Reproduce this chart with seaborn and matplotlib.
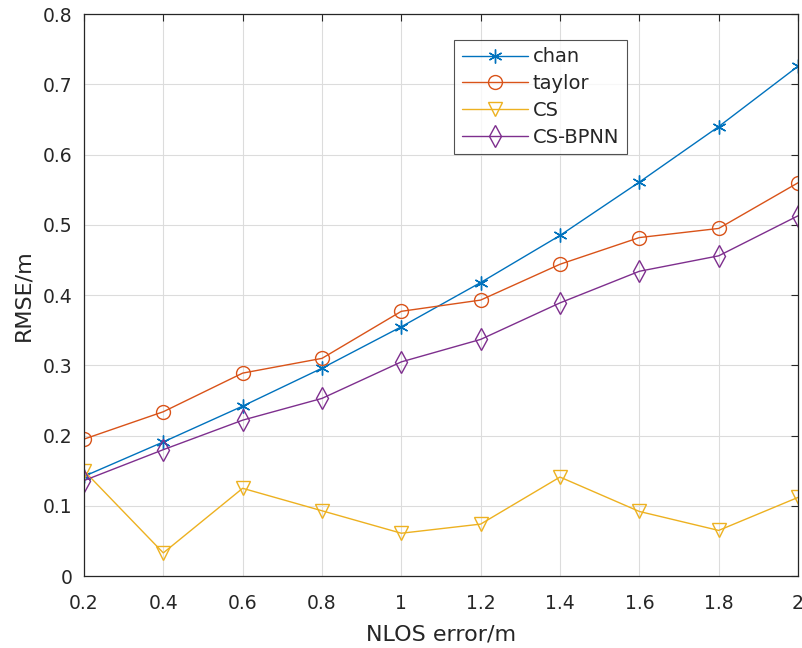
import numpy as np
import pandas as pd
import matplotlib
matplotlib.use("Agg")
import matplotlib.pyplot as plt
import seaborn as sns

nlos = [0.2, 0.4, 0.6, 0.8, 1.0, 1.2, 1.4, 1.6, 1.8, 2.0]
chan = [0.142, 0.191, 0.242, 0.296, 0.355, 0.418, 0.485, 0.561, 0.640, 0.726]
taylor = [0.195, 0.234, 0.289, 0.310, 0.377, 0.393, 0.444, 0.482, 0.495, 0.560]
cs = [0.150, 0.033, 0.125, 0.093, 0.061, 0.074, 0.141, 0.092, 0.065, 0.112]
cs_bpnn = [0.136, 0.180, 0.222, 0.253, 0.305, 0.337, 0.389, 0.434, 0.456, 0.513]

names = ["chan", "taylor", "CS", "CS-BPNN"]
series = [chan, taylor, cs, cs_bpnn]
colors = ["#0072BD", "#D95319", "#EDB120", "#7E2F8E"]
markers = [(6, 2, 0), "o", "v", "d"]
msizes = [10, 10, 10, 11]

df = pd.DataFrame({"x": nlos * 4,
                   "y": sum(series, []),
                   "method": np.repeat(names, len(nlos))})

sns.set_style("white")
plt.rcParams['font.family'] = ['DejaVu Sans']

fig = plt.figure(figsize=(8.02, 6.48), dpi=100)
ax = fig.add_axes([0.1047, 0.111, 0.8903, 0.867])

for name, c, m, ms in zip(names, colors, markers, msizes):
    sub = df[df["method"] == name]
    sns.lineplot(data=sub, x="x", y="y", ax=ax, color=c, marker=m,
                 markersize=ms, markerfacecolor="none", markeredgecolor=c,
                 markeredgewidth=1.0, linewidth=1.0, label=name)

ax.set_xlim(0.2, 2.0)
ax.set_ylim(0, 0.8)
ax.set_xticks(nlos)
ax.set_xticklabels(["0.2", "0.4", "0.6", "0.8", "1", "1.2", "1.4", "1.6", "1.8", "2"])
ax.set_yticks(np.arange(0, 0.81, 0.1))
ax.set_yticklabels(["0", "0.1", "0.2", "0.3", "0.4", "0.5", "0.6", "0.7", "0.8"])
ax.grid(True, color="#dcdcdc", linewidth=0.8)
ax.tick_params(direction="in", length=5, width=0.8, labelsize=13.5,
               colors="#262626", top=True, right=True)
ax.tick_params(axis="x", pad=13)
ax.tick_params(axis="y", pad=8)
for s in ax.spines.values():
    s.set_color("#262626")
    s.set_linewidth(0.9)
ax.set_xlabel("NLOS error/m", fontsize=16, color="#262626", labelpad=8)
ax.set_ylabel("RMSE/m", fontsize=16, color="#262626", labelpad=7)

leg = ax.legend(loc="upper left", bbox_to_anchor=(0.518, 0.955), fontsize=14,
                frameon=True, fancybox=False, edgecolor="#262626",
                handlelength=3.4, borderpad=0.4, labelspacing=0.4,
                handletextpad=0.25, borderaxespad=0)
leg.get_frame().set_linewidth(0.8)

plt.savefig("out.png", dpi=100)
